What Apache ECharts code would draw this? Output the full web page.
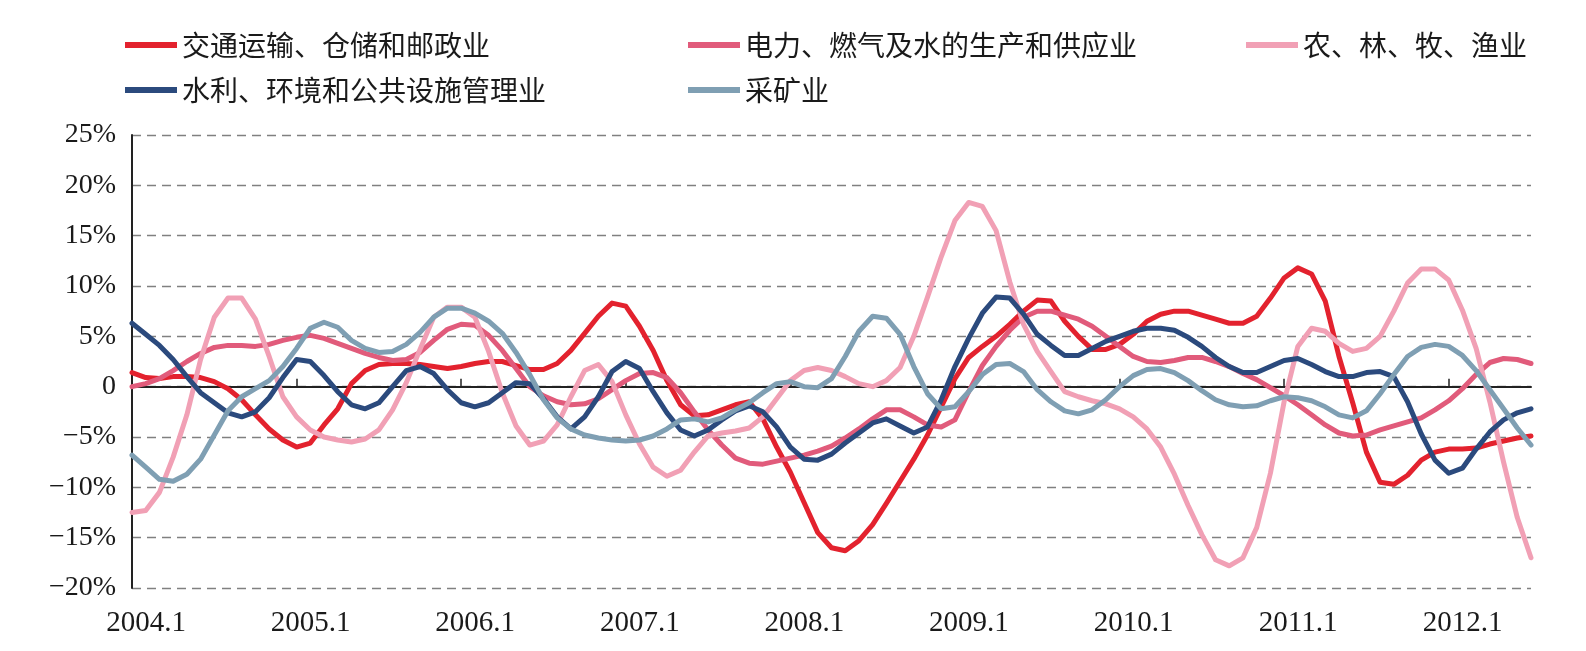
<!DOCTYPE html>
<html>
<head>
<meta charset="utf-8">
<script src="https://cdn.jsdelivr.net/npm/echarts@6/dist/echarts.min.js"></script>
<style>
html,body{margin:0;padding:0;background:#fff;}
#chart{width:1586px;height:651px;}
</style>
</head>
<body>
<div id="chart"></div>
<script>
// ---- categories (monthly, 2004.1 – 2012.7) ----
var years = [2004, 2005, 2006, 2007, 2008, 2009, 2010, 2011, 2012];
var months = [];
years.forEach(function (y) {
  for (var m = 1; m <= 12; m++) {
    if (y === 2012 && m > 7) break;
    months.push(y + '.' + m);
  }
});

var seriesNames = ['交通运输、仓储和邮政业', '电力、燃气及水的生产和供应业', '农、林、牧、渔业', '水利、环境和公共设施管理业', '采矿业'];
var seriesColors = ['#e3222e', '#e15b7b', '#f1a0b5', '#2b4a7d', '#7f9fb3'];

var transport = [1.4,0.9,0.8,1.0,1.0,0.9,0.5,-0.2,-1.3,-2.8,-4.2,-5.3,-6.0,-5.6,-3.8,-2.2,0.3,1.6,2.2,2.3,2.3,2.2,2.0,1.8,2.0,2.3,2.5,2.5,2.1,1.7,1.7,2.3,3.6,5.3,7.0,8.3,8.0,6.0,3.6,0.6,-1.8,-2.9,-2.8,-2.3,-1.8,-1.5,-3.2,-6.0,-8.5,-11.5,-14.5,-16.0,-16.3,-15.3,-13.7,-11.6,-9.4,-7.2,-4.8,-2.0,0.8,2.9,4.0,5.0,6.2,7.5,8.6,8.5,6.5,5.0,3.7,3.7,4.2,5.2,6.5,7.2,7.5,7.5,7.1,6.7,6.3,6.3,7.0,8.8,10.8,11.8,11.2,8.5,3.0,-1.6,-6.5,-9.5,-9.7,-8.8,-7.3,-6.5,-6.2,-6.2,-6.1,-5.7,-5.4,-5.1,-4.9];
var power = [0.0,0.3,0.8,1.6,2.5,3.3,3.9,4.1,4.1,4.0,4.2,4.6,4.9,5.1,4.8,4.3,3.8,3.3,2.9,2.6,2.7,3.4,4.6,5.7,6.2,6.1,5.1,3.6,1.8,0.0,-0.9,-1.5,-1.8,-1.7,-1.2,-0.3,0.6,1.3,1.4,0.9,-0.6,-2.5,-4.3,-5.8,-7.1,-7.6,-7.7,-7.4,-7.1,-6.8,-6.4,-5.9,-5.1,-4.2,-3.2,-2.3,-2.3,-3.0,-3.8,-4.0,-3.3,-0.5,2.1,4.0,5.6,6.9,7.5,7.5,7.1,6.7,6.0,5.0,4.0,3.0,2.5,2.4,2.6,2.9,2.9,2.5,2.0,1.3,0.7,-0.1,-0.9,-1.8,-2.8,-3.8,-4.6,-4.9,-4.8,-4.3,-3.9,-3.5,-3.1,-2.3,-1.4,-0.2,1.2,2.4,2.8,2.7,2.3];
var agri = [-12.5,-12.3,-10.5,-7.0,-2.8,2.7,6.9,8.8,8.8,6.7,3.0,-1.0,-3.0,-4.3,-5.0,-5.3,-5.5,-5.2,-4.3,-2.3,0.4,3.7,6.9,7.9,7.9,6.9,3.5,-0.6,-3.9,-5.8,-5.4,-3.8,-1.0,1.6,2.2,0.5,-2.8,-5.7,-8.0,-8.9,-8.3,-6.5,-4.9,-4.6,-4.4,-4.1,-3.0,-1.2,0.6,1.6,1.9,1.6,1.0,0.3,0.0,0.6,1.9,5.0,8.9,12.9,16.5,18.3,17.9,15.5,10.4,6.2,3.5,1.5,-0.5,-1.0,-1.4,-1.7,-2.2,-3.0,-4.2,-6.0,-8.7,-11.8,-14.7,-17.2,-17.8,-17.0,-14.0,-8.6,-1.5,4.0,5.8,5.5,4.3,3.5,3.8,5.0,7.5,10.3,11.7,11.7,10.6,7.6,3.8,-1.5,-7.5,-13.0,-17.0];
var water = [6.3,5.2,4.1,2.7,1.0,-0.6,-1.6,-2.6,-3.0,-2.5,-1.1,0.9,2.7,2.5,1.1,-0.5,-1.8,-2.2,-1.6,0.0,1.6,2.0,1.3,-0.3,-1.6,-2.0,-1.6,-0.6,0.4,0.3,-1.2,-3.0,-4.2,-3.0,-1.0,1.5,2.5,1.8,-0.5,-2.6,-4.3,-4.9,-4.3,-3.3,-2.4,-1.9,-2.5,-4.0,-6.0,-7.2,-7.3,-6.7,-5.6,-4.6,-3.6,-3.2,-3.9,-4.6,-4.0,-1.3,2.0,4.8,7.3,8.9,8.8,7.2,5.2,4.1,3.1,3.1,3.8,4.5,5.0,5.5,5.8,5.8,5.6,4.9,4.0,2.9,2.0,1.4,1.4,2.0,2.6,2.8,2.2,1.5,1.0,1.0,1.4,1.5,1.0,-1.5,-4.7,-7.3,-8.6,-8.1,-6.2,-4.5,-3.3,-2.6,-2.2];
var mining = [-6.8,-8.0,-9.2,-9.4,-8.7,-7.2,-4.8,-2.4,-1.0,-0.2,0.6,2.0,3.8,5.8,6.4,5.9,4.6,3.8,3.4,3.5,4.2,5.4,6.9,7.8,7.8,7.3,6.5,5.3,3.4,1.2,-1.3,-3.1,-4.2,-4.8,-5.1,-5.3,-5.4,-5.3,-4.9,-4.2,-3.3,-3.2,-3.5,-3.1,-2.3,-1.6,-0.6,0.3,0.5,0.0,-0.1,0.8,3.0,5.5,7.0,6.8,5.2,2.0,-0.7,-2.2,-2.0,-0.5,1.2,2.2,2.3,1.5,-0.3,-1.5,-2.4,-2.7,-2.3,-1.3,0.0,1.1,1.7,1.8,1.4,0.6,-0.4,-1.3,-1.8,-2.0,-1.9,-1.4,-1.0,-1.1,-1.4,-2.0,-2.8,-3.1,-2.4,-0.7,1.2,3.0,3.9,4.2,4.0,3.1,1.6,-0.3,-2.2,-4.1,-5.8];

var seriesValues = [transport, power, agri, water, mining];

// ---- layout ----
var legLeft = [125, 688, 1246, 125, 688];
var legTop = [31, 31, 31, 76, 76];
var serif = '"Liberation Serif", "Times New Roman", serif';
var cjk = '"Noto Sans CJK SC", sans-serif';

var yearTick = function (idx) { return idx % 12 === 0; };

var chart = echarts.init(document.getElementById('chart'), null, {renderer: 'canvas'});
var option = {
  animation: false,
  backgroundColor: '#ffffff',
  grid: {left: 132, right: 55, top: 135, bottom: 63, containLabel: false},
  legend: seriesNames.map(function (n, k) {
    return {
      data: [n], left: legLeft[k], top: legTop[k], padding: 0, itemGap: 0,
      icon: 'rect', itemWidth: 52, itemHeight: 6, selectedMode: false,
      textStyle: {fontSize: 28, fontFamily: cjk, color: '#1a1a1a'}
    };
  }),
  xAxis: [
    {
      type: 'category', data: months, boundaryGap: false, position: 'bottom',
      axisLine: {show: false, onZero: false},
      axisTick: {show: false},
      splitLine: {show: false},
      axisLabel: {interval: yearTick, margin: 21, padding: [0, 0, 0, 28], fontSize: 29, fontFamily: serif, color: '#1a1a1a'}
    },
    {
      type: 'category', data: months, boundaryGap: false, position: 'bottom',
      axisLine: {show: true, onZero: true, lineStyle: {color: '#222', width: 2}},
      axisTick: {show: true, inside: true, length: 8, interval: yearTick, lineStyle: {color: '#222', width: 1.5}},
      axisLabel: {show: false},
      splitLine: {show: false}
    }
  ],
  yAxis: {
    type: 'value', min: -20, max: 25, interval: 5,
    axisLine: {show: true, lineStyle: {color: '#222', width: 2}},
    axisTick: {show: false},
    axisLabel: {
      margin: 16, fontSize: 28, fontFamily: serif, color: '#1a1a1a',
      formatter: function (v) {
        if (v === 0) return '0';
        return (v < 0 ? '\u2212' + (-v) : v) + '%';
      }
    },
    splitLine: {show: true, lineStyle: {color: '#808080', width: 1.3, type: [9, 6]}}
  },
  series: seriesNames.map(function (n, k) {
    return {
      name: n, type: 'line', xAxisIndex: 0, data: seriesValues[k],
      showSymbol: false, symbol: 'none', smooth: false,
      lineStyle: {color: seriesColors[k], width: 5, join: 'round', cap: 'round'},
      itemStyle: {color: seriesColors[k]}
    };
  })
};
chart.setOption(option);
</script>
</body>
</html>
